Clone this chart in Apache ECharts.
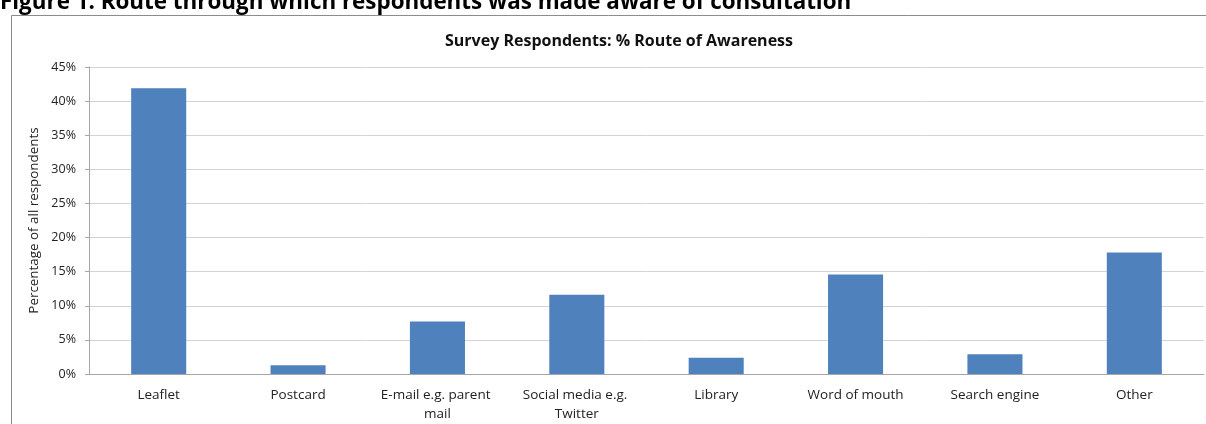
<!DOCTYPE html>
<html>
<head>
<meta charset="utf-8">
<script src="https://cdn.jsdelivr.net/npm/echarts@6/dist/echarts.min.js"></script>
<style>
html,body{margin:0;padding:0;background:#fff;}
#chart{width:1206px;height:424px;}
</style>
</head>
<body>
<div id="chart"></div>
<script>
const figureTitle = "Figure 1: Route through which respondents was made aware of consultation";
const chartTitle = "Survey Respondents: % Route of Awareness";
const yAxisName = "Percentage of all respondents";
const categories = ["Leaflet", "Postcard", "E-mail e.g. parent mail", "Social media e.g. Twitter", "Library", "Word of mouth", "Search engine", "Other"];
const values = [41.9, 1.3, 7.7, 11.6, 2.4, 14.6, 2.9, 17.8];
const yTicks = [0, 5, 10, 15, 20, 25, 30, 35, 40, 45];

const chart = echarts.init(document.getElementById('chart'), null, {renderer: 'canvas'});
const font = '"Open Sans", "Liberation Sans", sans-serif';
chart.setOption({
  animation: false,
  backgroundColor: '#fff',
  title: {
    text: chartTitle,
    left: 614, top: 28, textAlign: 'center',
    textStyle: {fontFamily: font, fontSize: 16, fontWeight: 'bold', color: '#111'}
  },
  graphic: [
    {type: 'text', left: 0, top: -8, style: {text: figureTitle, font: 'bold 22.4px "Open Sans", "Liberation Sans", sans-serif', fill: '#000'}},
    {type: 'polyline', shape: {points: [[11.5, 424], [11.5, 15.5], [1206, 15.5]]}, style: {stroke: '#8c8c8c', lineWidth: 1, fill: null}}
  ],
  grid: {left: 89, right: 2, top: 67, bottom: 50, containLabel: false},
  xAxis: {
    type: 'category',
    data: categories,
    axisLine: {lineStyle: {color: '#a6a6a6'}},
    axisTick: {show: false},
    axisLabel: {interval: 0, color: '#222', fontFamily: font, fontSize: 13.5, margin: 12, width: 125, overflow: 'break', lineHeight: 19}
  },
  yAxis: {
    type: 'value',
    min: 0, max: yTicks[yTicks.length - 1], interval: 5,
    name: yAxisName,
    nameLocation: 'middle',
    nameGap: 41,
    nameRotate: 90,
    nameTextStyle: {color: '#222', fontFamily: font, fontSize: 13.4},
    axisLine: {show: true, lineStyle: {color: '#a6a6a6'}},
    axisTick: {show: true, length: 4, lineStyle: {color: '#a6a6a6'}},
    axisLabel: {formatter: '{value}%', color: '#222', fontFamily: font, fontSize: 12.5, margin: 13},
    splitLine: {lineStyle: {color: '#d4d4d4'}}
  },
  series: [{
    type: 'bar',
    data: values,
    barWidth: '39.5%',
    itemStyle: {color: '#4f81bd'}
  }]
});
</script>
</body>
</html>
